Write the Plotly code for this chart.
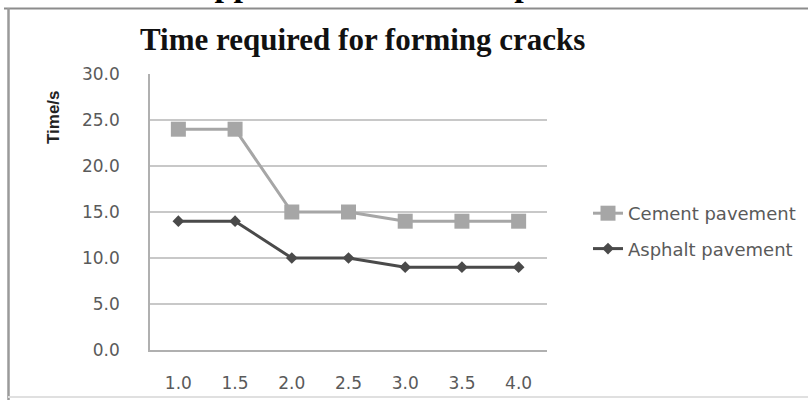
import plotly.graph_objects as go

# Data
categories = ["1.0", "1.5", "2.0", "2.5", "3.0", "3.5", "4.0"]
cement = [24, 24, 15, 15, 14, 14, 14]
asphalt = [14, 14, 10, 10, 9, 9, 9]
y_ticks = [0, 5, 10, 15, 20, 25, 30]
y_tick_labels = ["0.0", "5.0", "10.0", "15.0", "20.0", "25.0", "30.0"]

W, H = 808, 400
L, R, T, B = 150, 261, 74, 50
PW, PH = W - L - R, H - T - B


def px_x(x):
    return (x - L) / PW


def px_y(y):
    return (H - B - y) / PH


TICK_FONT = dict(family="DejaVu Sans", size=17, color="#5a5a5a")

fig = go.Figure()
fig.add_trace(go.Scatter(
    x=categories, y=cement, name="Cement pavement", mode="lines+markers",
    line=dict(color="#a6a6a6", width=3),
    marker=dict(symbol="square", size=15, color="#a6a6a6"),
    legendgroup="c",
))
fig.add_trace(go.Scatter(
    x=categories, y=asphalt, name="Asphalt pavement", mode="lines+markers",
    line=dict(color="#4a4a4a", width=3),
    marker=dict(symbol="diamond", size=9, color="#4a4a4a"),
    legendgroup="a",
))

fig.update_layout(
    width=W, height=H,
    margin=dict(l=L, r=R, t=T, b=B, autoexpand=False),
    paper_bgcolor="white", plot_bgcolor="white",
    showlegend=True,
    legend=dict(
        x=px_x(588), y=px_y(195), xanchor="left", yanchor="top",
        font=dict(family="DejaVu Sans", size=18, color="#5a5a5a"),
        tracegroupgap=9, bgcolor="rgba(0,0,0,0)",
    ),
    xaxis=dict(
        type="category", range=[-0.5, 6.5],
        showline=True, linecolor="#b0b0b0", linewidth=1.5,
        showgrid=False, ticks="", tickfont=TICK_FONT,
        ticklabelstandoff=17, fixedrange=True, automargin=False,
    ),
    yaxis=dict(
        range=[0, 30], tickvals=y_ticks, ticktext=y_tick_labels,
        showline=True, linecolor="#b0b0b0", linewidth=1.5,
        showgrid=True, gridcolor="#c8c8c8", gridwidth=1.5,
        zeroline=False, ticks="", tickfont=TICK_FONT,
        ticklabelstandoff=25, fixedrange=True, automargin=False,
    ),
)

# Chart title
fig.add_annotation(
    text="<b>Time required for forming cracks</b>",
    xref="paper", yref="paper", x=px_x(362), y=px_y(40),
    xanchor="center", yanchor="middle", showarrow=False,
    font=dict(family="Liberation Serif", size=31, color="#111111"),
)
# Y axis title
fig.add_annotation(
    text="<b>Time/s</b>",
    xref="paper", yref="paper", x=px_x(53), y=px_y(117),
    xanchor="center", yanchor="middle", showarrow=False, textangle=-90,
    font=dict(family="Liberation Sans", size=17, color="#222222"),
)
# Caption line running above the chart frame
fig.add_annotation(
    text="<b>thermal cracks appeared on the two specimens in simulated</b>",
    xref="paper", yref="paper", x=px_x(-31), y=px_y(5),
    xanchor="left", yanchor="bottom", showarrow=False,
    font=dict(family="Liberation Serif", size=34, color="#000000"),
)

# Chart frame
fig.add_shape(type="line", xref="paper", yref="paper",
              x0=px_x(4), x1=px_x(812), y0=px_y(8.5), y1=px_y(8.5),
              line=dict(color="#8c8c8c", width=2))
fig.add_shape(type="line", xref="paper", yref="paper",
              x0=px_x(8.5), x1=px_x(8.5), y0=px_y(8), y1=px_y(402),
              line=dict(color="#9a9a9a", width=2.5))
fig.add_shape(type="line", xref="paper", yref="paper",
              x0=px_x(8), x1=px_x(812), y0=px_y(397), y1=px_y(397),
              line=dict(color="#e0e0e0", width=2))

fig.write_html("out.html")
